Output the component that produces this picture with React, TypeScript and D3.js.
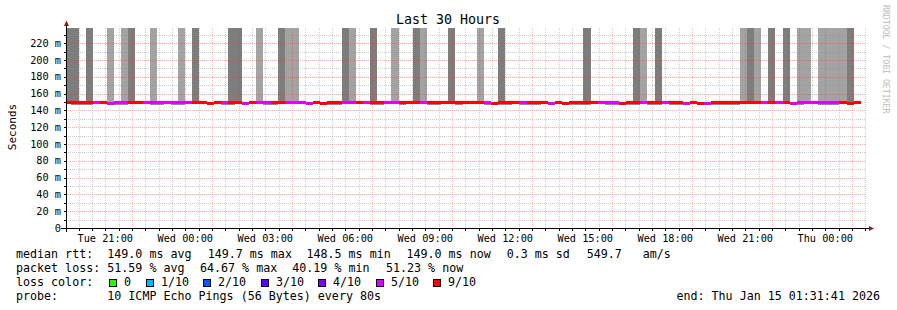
import React from "react";
import * as d3 from "d3";

// ---- time frame ----
const END_TIME = "2026-01-15T01:31:41Z";
const SPAN_HOURS = 30;
const FIRST_BUCKET = "2026-01-13T19:28:00Z";
const STEP_SECONDS = 960;

// ---- per-bucket data (112 buckets of 960 s) ----
// high smoke: 0 = none, 1 = one ping above scale (light), 2 = several (dark)
const smokeHigh = [
  2, 2, 0, 2, 0, 0, 1, 0, 1, 2,
  0, 0, 1, 0, 0, 0, 1, 0, 2, 0,
  0, 0, 0, 2, 2, 0, 0, 1, 0, 0,
  2, 1, 1, 0, 0, 0, 0, 0, 0, 2,
  1, 0, 0, 2, 0, 0, 1, 0, 0, 2,
  1, 0, 0, 0, 2, 0, 0, 0, 1, 0,
  0, 2, 0, 0, 0, 0, 0, 0, 0, 0,
  0, 0, 0, 2, 0, 0, 0, 0, 0, 0,
  2, 1, 0, 2, 0, 0, 0, 0, 0, 0,
  0, 0, 0, 0, 0, 1, 2, 1, 0, 2,
  0, 2, 0, 1, 1, 0, 1, 1, 1, 1,
  2, 0,
];
// lost pings out of 10
const lossCount = [
  6, 6, 6, 6, 5, 6, 5, 5, 5, 6,
  6, 5, 5, 5, 5, 5, 5, 5, 6, 6,
  6, 6, 5, 6, 6, 5, 6, 5, 5, 6,
  6, 5, 5, 5, 5, 6, 6, 6, 6, 5,
  5, 6, 5, 6, 6, 5, 5, 6, 6, 6,
  5, 6, 6, 6, 6, 6, 6, 6, 6, 5,
  6, 6, 6, 6, 5, 6, 6, 6, 5, 6,
  6, 6, 6, 6, 6, 5, 5, 5, 6, 6,
  6, 5, 6, 6, 5, 6, 6, 5, 6, 6,
  5, 6, 6, 6, 6, 6, 6, 6, 5, 6,
  5, 6, 5, 5, 5, 5, 5, 5, 5, 6,
  6, 6,
];
// median rtt (ms)
const medianMs = [
  149.0, 149.0, 149.7, 149.0, 149.0, 149.0, 148.5, 149.0, 149.0, 149.0,
  149.0, 149.0, 149.0, 149.0, 149.0, 149.0, 149.0, 149.0, 149.0, 149.0,
  148.5, 149.0, 149.0, 149.0, 149.0, 148.5, 149.0, 149.0, 149.0, 149.0,
  149.0, 149.0, 149.0, 149.0, 148.5, 149.0, 148.5, 149.0, 149.0, 149.0,
  149.0, 149.0, 149.7, 149.0, 149.0, 149.0, 149.0, 149.0, 149.0, 149.7,
  149.0, 149.0, 149.0, 149.0, 149.7, 149.0, 149.0, 149.0, 149.0, 149.0,
  148.5, 149.0, 149.0, 149.7, 149.0, 149.0, 149.0, 149.0, 148.5, 149.0,
  148.5, 149.0, 149.0, 149.0, 149.0, 149.0, 149.0, 149.0, 148.5, 149.0,
  149.0, 149.0, 149.0, 149.0, 149.0, 149.0, 149.0, 148.5, 149.0, 148.5,
  148.5, 149.0, 149.0, 149.0, 149.0, 149.0, 149.0, 149.0, 149.0, 149.0,
  149.0, 149.0, 148.5, 149.0, 149.0, 149.0, 149.0, 149.0, 149.0, 149.0,
  148.5, 149.0,
];
// lowest received ping (ms)
const minMs = [
  148.3, 146.6, 146.6, 146.6, 148.3, 148.3, 148.0, 146.6, 146.6, 148.3,
  148.3, 148.3, 146.6, 146.6, 148.3, 146.6, 146.6, 148.3, 148.3, 148.3,
  148.0, 148.3, 146.6, 146.6, 148.3, 148.0, 148.3, 148.3, 146.6, 146.6,
  148.3, 148.3, 148.3, 148.3, 148.0, 148.3, 148.0, 146.6, 146.6, 148.3,
  148.3, 148.3, 148.3, 146.6, 146.6, 148.3, 148.3, 146.6, 148.3, 148.3,
  148.3, 146.6, 146.6, 148.3, 148.3, 146.6, 148.3, 148.3, 148.3, 146.6,
  148.0, 146.6, 146.6, 148.3, 146.6, 146.6, 146.6, 148.3, 148.0, 148.3,
  148.0, 146.6, 146.6, 146.6, 148.3, 148.3, 146.6, 146.6, 148.0, 146.6,
  146.6, 148.3, 146.6, 146.6, 148.3, 146.6, 146.6, 148.0, 148.3, 148.0,
  148.0, 146.6, 146.6, 146.6, 146.6, 148.3, 148.3, 148.3, 148.3, 148.3,
  148.3, 148.3, 148.0, 145.8, 148.3, 148.3, 146.6, 146.6, 146.6, 148.3,
  146.6, 148.3,
];
// highest ping within scale (ms)
const maxMs = [
  149.6, 149.6, 151.0, 149.6, 149.6, 149.6, 149.6, 150.8, 149.6, 149.6,
  149.6, 149.6, 149.6, 149.6, 149.6, 149.6, 149.6, 150.8, 149.6, 149.6,
  149.6, 149.6, 149.6, 149.6, 149.6, 149.6, 149.6, 149.6, 149.6, 149.6,
  149.6, 149.6, 149.6, 150.8, 149.6, 149.6, 149.6, 149.6, 149.6, 149.6,
  149.6, 149.6, 151.0, 149.6, 149.6, 149.6, 149.6, 149.6, 149.6, 149.6,
  149.6, 150.8, 150.8, 149.6, 149.6, 149.6, 149.6, 149.6, 149.6, 149.6,
  149.6, 149.6, 149.6, 149.6, 149.6, 149.6, 150.8, 150.8, 149.6, 149.6,
  149.6, 149.6, 149.6, 149.6, 149.6, 149.6, 149.6, 149.6, 149.6, 149.6,
  149.6, 149.6, 149.6, 149.6, 149.6, 149.6, 150.8, 149.6, 149.6, 149.6,
  149.6, 149.6, 149.6, 149.6, 149.6, 149.6, 149.6, 150.8, 149.6, 149.6,
  149.6, 149.6, 149.6, 149.6, 149.6, 150.8, 149.6, 150.8, 150.8, 149.6,
  149.6, 149.6,
];

// ---- axis / legend values ----
const yMajorTicks = [0, 20, 40, 60, 80, 100, 120, 140, 160, 180, 200, 220];
const yMinorTicks = [10, 30, 50, 70, 90, 110, 130, 150, 170, 190, 210, 230];
const yMax = 238;
const lossLabels = ["0", "1/10", "2/10", "3/10", "4/10", "5/10", "9/10"];
const lossColors = ["#26ff00", "#00b8ff", "#0059ff", "#5e00ff", "#7e00ff", "#dd00ff", "#ff0000"];
const rttStats = [149.0, 149.7, 148.5, 149.0, 0.3, 549.7];
const lossStats = [51.59, 64.67, 40.19, 51.23];

const lossColor = (n: number) => (n <= 0 ? lossColors[0] : n >= 6 ? lossColors[6] : lossColors[n]);

export default function App() {
  const end = new Date(END_TIME);
  const start = new Date(end.getTime() - SPAN_HOURS * 3600 * 1000);
  const first = new Date(FIRST_BUCKET).getTime();
  const PL = 66, PR = 866, PT = 28, PB = 228;
  const x = d3.scaleUtc().domain([start, end]).range([PL, PR]);
  const y = d3.scaleLinear().domain([0, yMax]).range([PB, PT]);

  const buckets = smokeHigh.map((s, i) => {
    const t0 = new Date(first + i * STEP_SECONDS * 1000);
    const t1 = new Date(first + (i + 1) * STEP_SECONDS * 1000);
    return { s, x0: x(t0), x1: x(t1), med: medianMs[i], loss: lossCount[i], lo: minMs[i], hi: maxMs[i] };
  });

  const hourTicks = d3.utcHour.every(1)!.range(start, end);
  const halfTicks = d3.utcMinute.every(30)!.range(start, end).filter((d) => d.getUTCMinutes() === 30);
  const labelTicks = d3.utcHour.every(3)!.range(start, end);
  const fmt = d3.utcFormat("%a %H:%M");

  const majorGrid = "rgba(255,40,40,0.35)";
  const minorGrid = "rgba(140,140,140,0.45)";
  const legendFs = 11.66;
  const axisFs = 10.25;
  const boxX = [109, 146, 203, 261, 318, 376, 433];

  return (
    <svg
      width={897}
      height={310}
      style={{ position: "absolute", left: 0, top: 0, background: "#fff" }}
      fontFamily="'DejaVu Sans Mono', monospace"
    >
      <defs>
        <clipPath id="plot">
          <rect x={PL} y={PT} width={PR - PL} height={PB - PT} />
        </clipPath>
      </defs>
      <rect x={0} y={0} width={897} height={310} fill="#fff" />

      <g clipPath="url(#plot)" shapeRendering="crispEdges">
        {/* near-median smoke */}
        {buckets.map((b, i) => (
          <rect key={"n" + i} x={b.x0} width={b.x1 - b.x0} y={y(b.hi)} height={y(b.lo) - y(b.hi)} fill="#8c8c8c" />
        ))}
        {/* high smoke */}
        {buckets.map((b, i) =>
          b.s ? (
            <rect key={"s" + i} x={b.x0} width={b.x1 - b.x0} y={PT} height={y(b.med) - PT} fill={b.s === 2 ? "#7d7d7d" : "#a3a3a3"} />
          ) : null
        )}
      </g>

      {/* grid */}
      <g strokeWidth={1} strokeDasharray="1,1" shapeRendering="crispEdges">
        {yMinorTicks.map((v) => (
          <line key={"ym" + v} x1={PL} x2={PR} y1={Math.round(y(v)) + 0.5} y2={Math.round(y(v)) + 0.5} stroke={minorGrid} />
        ))}
        {yMajorTicks.slice(1).map((v) => (
          <line key={"yM" + v} x1={PL} x2={PR} y1={Math.round(y(v)) + 0.5} y2={Math.round(y(v)) + 0.5} stroke={majorGrid} />
        ))}
        {halfTicks.map((d) => (
          <line key={"xm" + +d} x1={Math.round(x(d)) + 0.5} x2={Math.round(x(d)) + 0.5} y1={PT} y2={PB} stroke={minorGrid} />
        ))}
        {hourTicks.map((d) => (
          <line key={"xM" + +d} x1={Math.round(x(d)) + 0.5} x2={Math.round(x(d)) + 0.5} y1={PT} y2={PB} stroke={majorGrid} />
        ))}
      </g>

      {/* median line, coloured by loss */}
      <g clipPath="url(#plot)" shapeRendering="crispEdges">
        {buckets.map((b, i) => (
          <rect key={"m" + i} x={b.x0} width={b.x1 - b.x0} y={Math.round(y(b.med) - 1.5)} height={3} fill={lossColor(b.loss)} />
        ))}
      </g>

      {/* axis ticks */}
      <g stroke="#000" strokeWidth={1} shapeRendering="crispEdges">
        {[...yMinorTicks, ...yMajorTicks.slice(1)].map((v) => (
          <line key={"yt" + v} x1={64} x2={66} y1={Math.round(y(v)) + 0.5} y2={Math.round(y(v)) + 0.5} />
        ))}
        {[...hourTicks, ...halfTicks].map((d) => (
          <line key={"xt" + +d} x1={Math.round(x(d)) + 0.5} x2={Math.round(x(d)) + 0.5} y1={229} y2={231} />
        ))}
      </g>

      {/* axes */}
      <line x1={61} x2={869} y1={228.5} y2={228.5} stroke="#000" shapeRendering="crispEdges" />
      <line x1={66.5} x2={66.5} y1={232} y2={24} stroke="#000" shapeRendering="crispEdges" />
      <path d="M64,26 L69,26 L66.5,20.5 Z" fill="#8b1c1c" />
      <path d="M869,226 L869,231 L874,228.5 Z" fill="#8b1c1c" />

      {/* y labels */}
      <g fontSize={axisFs} textAnchor="end" fill="#000">
        {yMajorTicks.map((v) => (
          <text key={"yl" + v} x={61} y={y(v) + 3.6}>
            {v === 0 ? "0" : `${v} m`}
          </text>
        ))}
      </g>
      {/* x labels */}
      <g fontSize={axisFs} textAnchor="middle" fill="#000">
        {labelTicks.map((d) => (
          <text key={"xl" + +d} x={x(d)} y={241.5}>
            {fmt(d)}
          </text>
        ))}
      </g>

      {/* titles */}
      <text x={448} y={23.5} fontSize={13.3} textAnchor="middle" fill="#000">
        Last 30 Hours
      </text>
      <text transform="translate(15.5,127) rotate(-90)" fontSize={11} textAnchor="middle" fill="#000">
        Seconds
      </text>
      <text transform="translate(883,5) rotate(90)" fontSize={8.2} fill="#bdbdbd">
        RRDTOOL / TOBI OETIKER
      </text>

      {/* legend */}
      <g fontSize={legendFs} fill="#000" style={{ whiteSpace: "pre" }}>
        <text x={16} y={258}>median rtt:</text>
        <text x={107.3} y={258}>{`${rttStats[0].toFixed(1)} ms avg`}</text>
        <text x={207.7} y={258}>{`${rttStats[1].toFixed(1)} ms max`}</text>
        <text x={306.5} y={258}>{`${rttStats[2].toFixed(1)} ms min`}</text>
        <text x={406.5} y={258}>{`${rttStats[3].toFixed(1)} ms now`}</text>
        <text x={506.7} y={258}>{`${rttStats[4].toFixed(1)} ms sd`}</text>
        <text x={586.7} y={258}>{`${rttStats[5].toFixed(1)}`}</text>
        <text x={642.7} y={258}>am/s</text>

        <text x={16} y={271.8}>packet loss:</text>
        <text x={107.3} y={271.8}>{`${lossStats[0].toFixed(2)} % avg`}</text>
        <text x={200} y={271.8}>{`${lossStats[1].toFixed(2)} % max`}</text>
        <text x={292.3} y={271.8}>{`${lossStats[2].toFixed(2)} % min`}</text>
        <text x={386} y={271.8}>{`${lossStats[3].toFixed(2)} % now`}</text>

        <text x={16} y={285.6}>loss color:</text>
        {lossLabels.map((l, i) => (
          <g key={"lc" + i}>
            <rect x={boxX[i] + 0.5} y={279.5} width={7} height={7} fill={lossColors[i]} stroke="#000" strokeWidth={1} />
            <text x={boxX[i] + 15} y={285.6}>{l}</text>
          </g>
        ))}

        <text x={16} y={299.5}>probe:</text>
        <text x={107.3} y={299.5}>10 ICMP Echo Pings (56 Bytes) every 80s</text>
        <text x={880} y={299.5} textAnchor="end">end: Thu Jan 15 01:31:41 2026</text>
      </g>
    </svg>
  );
}
